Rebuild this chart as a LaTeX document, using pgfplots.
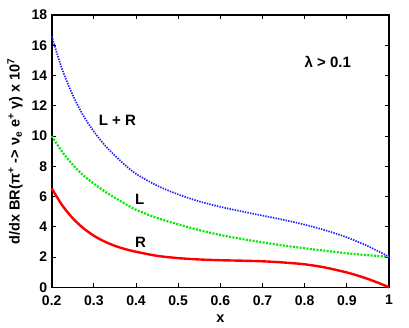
\documentclass[border=0pt]{standalone}
\usepackage{fontspec}
\setmainfont{Liberation Sans}
\usepackage{pgfplots}
\pgfplotsset{compat=1.18}
\usetikzlibrary{calc}

\begin{document}
\begin{tikzpicture}
\begin{axis}[
  scale only axis,
  width=337.3pt, height=272.3pt,
  xmin=0.2, xmax=1, ymin=0, ymax=18,
  xtick={0.2,0.3,...,1.0}, ytick={0,2,...,18},
  tick align=inside, major tick length=4pt,
  axis line style={line width=1.6pt}, tick style={line width=1pt, black},
  /pgf/number format/assume math mode=true,
  ticklabel style={font=\fontsize{14}{14}\selectfont\bfseries},
  xticklabel style={yshift=-4.5pt},
  yticklabel style={xshift=-1pt},
  xlabel={x}, ylabel={d/dx BR(π\textsuperscript{+} -> ν\textsubscript{e} e\textsuperscript{+} γ) x 10\textsuperscript{7}},
  label style={font=\fontsize{14.5}{14.5}\selectfont\bfseries},
  xlabel style={yshift=-3pt},
  ylabel style={yshift=2pt},
  clip=false,
]
% R
\addplot[red, line width=2.4pt, smooth] coordinates {
(0.2,6.54)(0.225,5.42)(0.25,4.56)(0.275,3.91)(0.3,3.41)(0.325,3.03)(0.35,2.74)(0.375,2.52)
(0.4,2.35)(0.45,2.08)(0.5,1.93)(0.55,1.84)(0.6,1.79)(0.65,1.76)(0.7,1.72)(0.75,1.64)
(0.8,1.52)(0.85,1.3)(0.9,0.98)(0.925,0.78)(0.95,0.55)(0.975,0.29)(1.0,0.0)};
% L
\addplot[color={rgb,255:red,0;green,235;blue,0}, line width=2.2pt, dash pattern=on 2pt off 1.4pt, smooth] coordinates {
(0.2,10.0)(0.225,8.95)(0.25,8.1)(0.275,7.4)(0.3,6.85)(0.325,6.35)(0.35,5.92)(0.375,5.5)
(0.4,5.12)(0.45,4.58)(0.5,4.16)(0.55,3.78)(0.6,3.46)(0.65,3.2)(0.7,2.97)(0.75,2.76)
(0.8,2.58)(0.85,2.41)(0.9,2.25)(0.95,2.12)(1.0,2.02)};
% L + R
\addplot[color={rgb,255:red,30;green,30;blue,255}, line width=1.7pt, dash pattern=on 1.4pt off 1.2pt, smooth] coordinates {
(0.2,16.6)(0.225,14.4)(0.25,12.7)(0.275,11.35)(0.3,10.3)(0.325,9.42)(0.35,8.7)(0.375,8.06)
(0.4,7.5)(0.45,6.72)(0.5,6.14)(0.55,5.68)(0.6,5.32)(0.65,5.02)(0.7,4.74)(0.75,4.46)
(0.8,4.14)(0.85,3.76)(0.9,3.3)(0.95,2.72)(1.0,2.02)};
\node[font=\fontsize{15}{15}\selectfont\bfseries] at (axis cs:0.855,14.9) {λ > 0.1};
\node[font=\fontsize{15}{15}\selectfont\bfseries] at (axis cs:0.356,11.06) {L + R};
\node[font=\fontsize{15}{15}\selectfont\bfseries] at (axis cs:0.409,5.8) {L};
\node[font=\fontsize{15}{15}\selectfont\bfseries] at (axis cs:0.411,2.95) {R};
\end{axis}
\path ($(current axis.south west)+(-51.7pt,-39.7pt)$) rectangle ($(current axis.north east)+(20pt,15pt)$);
\end{tikzpicture}
\end{document}
